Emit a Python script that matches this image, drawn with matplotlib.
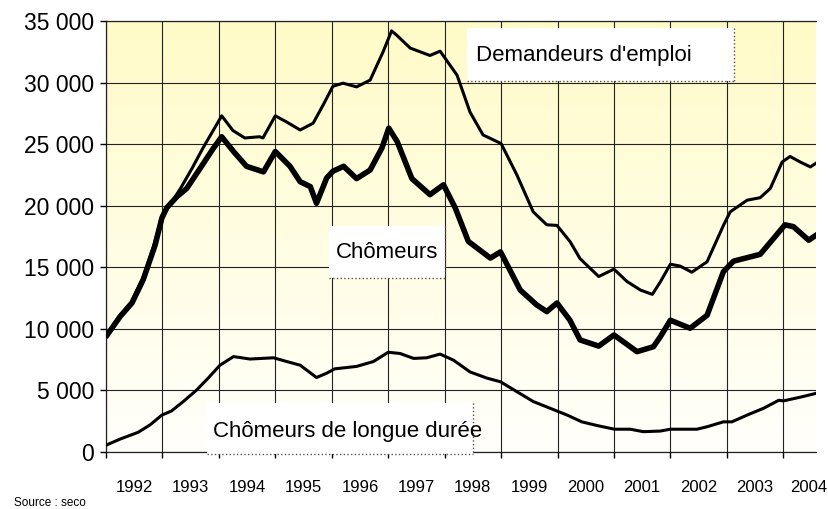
import numpy as np
import matplotlib
matplotlib.use("Agg")
import matplotlib.pyplot as plt
import matplotlib.ticker as ticker
from matplotlib.patches import Rectangle
from matplotlib.lines import Line2D

plt.rcParams['font.family'] = ['Liberation Sans', 'DejaVu Sans']

# values (decimal year, number of persons)
t_dem = [1992.02, 1992.25, 1992.45, 1992.65, 1992.83, 1993.00, 1993.15, 1993.32, 1993.52, 1993.72,
         1994.05, 1994.25, 1994.46, 1994.72, 1994.78, 1995.00, 1995.20, 1995.44, 1995.67, 1995.85,
         1996.02, 1996.20, 1996.44, 1996.68, 1996.91, 1997.06, 1997.15, 1997.39, 1997.74, 1997.92,
         1998.22, 1998.45, 1998.68, 1998.93, 1999.00, 1999.28, 1999.57, 1999.81, 1999.99, 2000.22,
         2000.40, 2000.73, 2001.00, 2001.23, 2001.47, 2001.68, 2001.82, 2002.00, 2002.17, 2002.38,
         2002.65, 2002.94, 2003.06, 2003.36, 2003.59, 2003.77, 2003.98, 2004.12, 2004.30, 2004.48,
         2004.58]
demandeurs = [9600, 11100, 12200, 14100, 16500, 19300, 20200, 21400, 23000, 24700,
              27300, 26100, 25500, 25600, 25500, 27300, 26800, 26150, 26700, 28200,
              29700, 29950, 29650, 30200, 32500, 34200, 33850, 32800, 32200, 32550,
              30600, 27600, 25750, 25200, 25050, 22500, 19500, 18450, 18400, 17100,
              15700, 14250, 14850, 13850, 13150, 12800, 13800, 15250, 15100, 14600,
              15450, 18400, 19500, 20450, 20650, 21400, 23550, 24000, 23550, 23150,
              23450]

t_cho = [1992.02, 1992.25, 1992.46, 1992.66, 1992.87, 1992.99, 1993.08, 1993.26, 1993.43, 1993.67,
         1993.90, 1994.05, 1994.26, 1994.49, 1994.79, 1995.00, 1995.26, 1995.44, 1995.62, 1995.73,
         1995.91, 1996.02, 1996.21, 1996.44, 1996.68, 1996.89, 1997.01, 1997.16, 1997.42, 1997.74,
         1997.98, 1998.19, 1998.42, 1998.81, 1998.99, 1999.34, 1999.63, 1999.81, 1999.99, 2000.22,
         2000.40, 2000.73, 2001.00, 2001.41, 2001.70, 2001.82, 2002.00, 2002.35, 2002.65, 2002.94,
         2003.12, 2003.59, 2003.83, 2004.03, 2004.18, 2004.45, 2004.58]
chomeurs = [9500, 11000, 12100, 14000, 16800, 19000, 19850, 20750, 21400, 23050,
            24650, 25600, 24400, 23200, 22750, 24400, 23200, 21950, 21550, 20200,
            22250, 22800, 23200, 22200, 22900, 24700, 26300, 25200, 22200, 20900,
            21700, 19800, 17100, 15750, 16250, 13150, 11950, 11400, 12100, 10700,
            9100, 8600, 9500, 8150, 8550, 9350, 10700, 10050, 11100, 14650,
            15500, 16050, 17350, 18450, 18300, 17200, 17600]

t_ld = [1992.01, 1992.25, 1992.57, 1992.78, 1992.99, 1993.16, 1993.37, 1993.61, 1993.81, 1994.02,
        1994.26, 1994.55, 1994.97, 1995.20, 1995.44, 1995.73, 1995.91, 1996.05, 1996.44, 1996.74,
        1997.00, 1997.21, 1997.45, 1997.68, 1997.92, 1998.16, 1998.45, 1998.75, 1998.99, 1999.28,
        1999.57, 1999.87, 2000.17, 2000.43, 2000.70, 2001.01, 2001.29, 2001.52, 2001.82, 2002.00,
        2002.47, 2002.65, 2002.94, 2003.09, 2003.36, 2003.65, 2003.92, 2004.00, 2004.30, 2004.57]
longue_duree = [570, 1050, 1600, 2200, 3000, 3330, 4100, 5050, 6000, 7050,
                7750, 7550, 7650, 7350, 7050, 6050, 6400, 6750, 6950, 7350,
                8100, 8000, 7600, 7650, 7950, 7450, 6500, 6000, 5700, 4900,
                4100, 3550, 3000, 2450, 2150, 1850, 1850, 1650, 1700, 1850,
                1850, 2050, 2450, 2450, 3000, 3550, 4200, 4150, 4450, 4750]

years = list(range(1992, 2005))
year_labels = [str(y) for y in years]

W, H = 829, 509
fig = plt.figure(figsize=(W / 100, H / 100), dpi=100)
ax = fig.add_axes([106 / W, 1 - 452 / H, 710 / W, 431 / H])

x0, x1 = 1992.0, 2004.58
ymax = 35000

# yellow -> white background gradient
top = np.array([255, 251, 200]) / 255
bot = np.array([255, 255, 251]) / 255
g = np.linspace(1, 0, 256)[:, None, None]
img = bot + (top - bot) * g
ax.imshow(img, extent=[x0, x1, 0, ymax], aspect='auto', origin='upper', zorder=0)

ax.plot(t_ld, longue_duree, color='black', lw=2.2, zorder=3, solid_joinstyle='round')
ax.plot(t_dem, demandeurs, color='black', lw=2.2, zorder=3, solid_joinstyle='round')
ax.plot(t_cho, chomeurs, color='black', lw=4.0, zorder=4, solid_joinstyle='round')

ax.set_xlim(x0, x1)
ax.set_ylim(0, ymax)

ax.set_xticks(years)
ax.xaxis.set_major_formatter(ticker.NullFormatter())
ax.set_xticks([y + 0.5 for y in years[:-1]] + [2004.45], minor=True)
ax.set_xticklabels(year_labels, minor=True)
ax.set_yticks(range(0, ymax + 1, 5000))
ax.yaxis.set_major_formatter(ticker.FuncFormatter(lambda v, p: f"{int(v):,}".replace(",", " ")))

ax.grid(True, which='major', color='#222222', lw=0.8, zorder=1)
ax.set_axisbelow(False)
ax.tick_params(axis='y', which='major', direction='out', length=4.5, width=1, pad=4, labelsize=16.5)
ax.tick_params(axis='x', which='major', direction='out', length=4.5, width=1)
ax.tick_params(axis='x', which='minor', length=0, pad=20, labelsize=12)
for s in ['left', 'bottom', 'top']:
    ax.spines[s].set_color('#222222')
    ax.spines[s].set_linewidth(0.9)
ax.spines['right'].set_visible(False)


def label_box(x, y, w, h, text, tx, ty):
    fig.add_artist(Rectangle((x / W, 1 - (y + h) / H), w / W, h / H, transform=fig.transFigure,
                             facecolor='white', edgecolor='none', zorder=5))
    fig.add_artist(Line2D([(x + w) / W] * 2, [1 - y / H, 1 - (y + h) / H], ls=':', lw=1,
                          color='#555555', transform=fig.transFigure, zorder=6))
    fig.add_artist(Line2D([x / W, (x + w) / W], [1 - (y + h) / H] * 2, ls=':', lw=1,
                          color='#555555', transform=fig.transFigure, zorder=6))
    fig.text(tx / W, 1 - ty / H, text, fontsize=16, ha='left', va='center', zorder=7)


label_box(467, 28, 267, 53, "Demandeurs d'emploi", 476, 56)
label_box(329, 226, 116, 52, "Chômeurs", 336, 253)
label_box(207, 403, 266, 51, "Chômeurs de longue durée", 213, 431)

fig.text(14 / W, 1 - 503 / H, "Source : seco", fontsize=8.5, ha='left', va='center')

fig.savefig("out.png", dpi=100)
